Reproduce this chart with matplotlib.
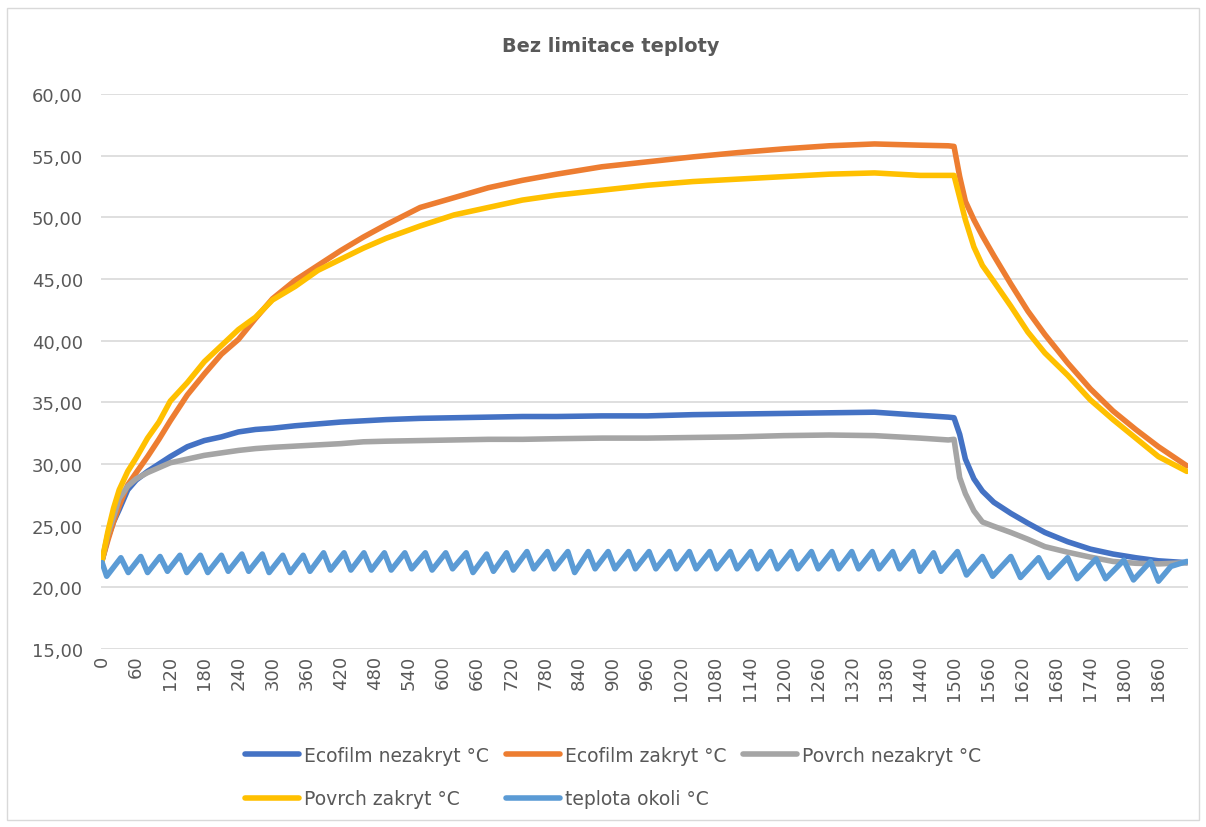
import matplotlib
matplotlib.use("Agg")
import matplotlib.pyplot as plt
from matplotlib.patches import Rectangle
from matplotlib.ticker import FuncFormatter, MultipleLocator

# time in seconds for the four main series
cas = [0, 10, 20, 30, 45, 60, 80, 100, 120, 150, 180, 210, 240, 270, 300,
       340, 380, 420, 460, 500, 560, 620, 680, 740, 800, 880, 960, 1040,
       1120, 1200, 1280, 1360, 1440, 1490, 1500, 1510, 1520, 1535, 1550,
       1570, 1600, 1630, 1660, 1700, 1740, 1780, 1820, 1860, 1910]

ecofilm_nezakryt = [22.2, 24.0, 25.3, 26.3, 27.9, 28.7, 29.4, 30.0, 30.6, 31.4,
                    31.9, 32.2, 32.6, 32.8, 32.9, 33.1, 33.25, 33.4, 33.5, 33.6,
                    33.7, 33.75, 33.8, 33.85, 33.85, 33.9, 33.9, 34.0, 34.05,
                    34.1, 34.15, 34.2, 33.95, 33.8, 33.75, 32.4, 30.4, 28.8,
                    27.8, 26.9, 26.0, 25.2, 24.45, 23.7, 23.1, 22.7, 22.4,
                    22.15, 22.0]

ecofilm_zakryt = [22.2, 23.8, 25.3, 26.6, 28.3, 29.3, 30.6, 32.0, 33.5, 35.6,
                  37.3, 38.9, 40.1, 41.8, 43.4, 44.9, 46.1, 47.3, 48.4, 49.4,
                  50.8, 51.6, 52.4, 53.0, 53.5, 54.1, 54.5, 54.9, 55.25, 55.55,
                  55.8, 55.95, 55.85, 55.8, 55.75, 53.3, 51.3, 49.8, 48.5, 46.9,
                  44.6, 42.4, 40.5, 38.2, 36.1, 34.3, 32.8, 31.4, 29.85]

povrch_nezakryt = [22.2, 24.3, 25.7, 27.2, 28.2, 28.8, 29.3, 29.7, 30.1, 30.4,
                   30.7, 30.9, 31.1, 31.25, 31.35, 31.45, 31.55, 31.65, 31.8,
                   31.85, 31.9, 31.95, 32.0, 32.0, 32.05, 32.1, 32.1, 32.15,
                   32.2, 32.3, 32.35, 32.3, 32.1, 31.95, 32.0, 28.9, 27.6, 26.2,
                   25.3, 24.95, 24.45, 23.9, 23.3, 22.85, 22.45, 22.1, 21.95,
                   21.9, 22.0]

povrch_zakryt = [22.2, 24.5, 26.4, 27.9, 29.4, 30.5, 32.1, 33.4, 35.1, 36.6,
                 38.3, 39.6, 40.9, 41.9, 43.3, 44.4, 45.7, 46.6, 47.5, 48.3,
                 49.3, 50.2, 50.8, 51.4, 51.8, 52.2, 52.6, 52.9, 53.1, 53.3,
                 53.5, 53.6, 53.4, 53.4, 53.4, 51.6, 49.8, 47.6, 46.1, 44.8,
                 42.8, 40.7, 39.0, 37.2, 35.2, 33.6, 32.1, 30.6, 29.4]

# ambient temperature: peaks and troughs of the sawtooth
cas_okoli = [0, 8, 33, 46, 68, 80, 102, 115, 137, 149, 173, 186, 210, 222,
             246, 258, 282, 294, 318, 331, 354, 366, 390, 402, 426, 438, 461,
             474, 497, 509, 533, 545, 569, 581, 605, 617, 641, 653, 677, 689,
             712, 724, 748, 760, 784, 796, 820, 832, 856, 868, 891, 903, 927,
             939, 963, 975, 999, 1011, 1034, 1046, 1070, 1082, 1106, 1118,
             1142, 1154, 1177, 1189, 1213, 1225, 1249, 1261, 1285, 1297, 1320,
             1332, 1356, 1368, 1392, 1404, 1428, 1440, 1464, 1477, 1506, 1522,
             1550, 1568, 1600, 1617, 1649, 1667, 1700, 1717, 1750, 1767, 1799,
             1816, 1846, 1860, 1882, 1910]
teplota_okoli = [22.0, 20.9, 22.4, 21.2, 22.5, 21.2, 22.5, 21.3, 22.6, 21.2,
                 22.6, 21.2, 22.6, 21.3, 22.7, 21.3, 22.7, 21.2, 22.6, 21.2,
                 22.6, 21.3, 22.8, 21.4, 22.8, 21.4, 22.8, 21.4, 22.8, 21.4,
                 22.8, 21.5, 22.8, 21.4, 22.8, 21.5, 22.8, 21.2, 22.7, 21.3,
                 22.8, 21.4, 22.9, 21.5, 22.9, 21.5, 22.9, 21.2, 22.9, 21.5,
                 22.9, 21.5, 22.9, 21.5, 22.9, 21.5, 22.9, 21.5, 22.9, 21.5,
                 22.9, 21.5, 22.9, 21.5, 22.9, 21.5, 22.9, 21.5, 22.9, 21.5,
                 22.9, 21.5, 22.9, 21.5, 22.9, 21.5, 22.9, 21.5, 22.9, 21.5,
                 22.9, 21.3, 22.8, 21.3, 22.9, 21.0, 22.5, 20.9, 22.5, 20.8,
                 22.4, 20.8, 22.4, 20.7, 22.3, 20.7, 22.2, 20.6, 22.1, 20.5,
                 21.7, 22.1]

serie = [
    ("Ecofilm nezakryt °C", cas, ecofilm_nezakryt, "#4472C4"),
    ("Ecofilm zakryt °C", cas, ecofilm_zakryt, "#ED7D31"),
    ("Povrch nezakryt °C", cas, povrch_nezakryt, "#A5A5A5"),
    ("Povrch zakryt °C", cas, povrch_zakryt, "#FFC000"),
    ("teplota okoli °C", cas_okoli, teplota_okoli, "#5B9BD5"),
]

text_color = "#595959"
plt.rcParams["font.family"] = ["DejaVu Sans"]

fig = plt.figure(figsize=(12.06, 8.28), dpi=100)
fig.patches.append(Rectangle((7 / 1206, 1 - 821 / 828), 1192 / 1206, 812 / 828,
                             transform=fig.transFigure, fill=False,
                             edgecolor="#D9D9D9", lw=1))
ax = fig.add_axes([101 / 1206, 1 - 650 / 828, 1087 / 1206, 555 / 828])

lines = []
for name, t, v, c in serie:
    ln, = ax.plot(t, v, color=c, lw=4.0, label=name, solid_joinstyle="round",
                  solid_capstyle="round")
    lines.append(ln)

ax.set_xlim(-2, 1912)
ax.set_ylim(15, 60)
ax.xaxis.set_major_locator(MultipleLocator(60))
ax.yaxis.set_major_locator(MultipleLocator(5))
ax.yaxis.set_major_formatter(FuncFormatter(lambda v, p: f"{v:.2f}".replace(".", ",")))
ax.grid(axis="y", color="#D9D9D9", lw=1.2)
ax.set_axisbelow(True)
for s in ax.spines.values():
    s.set_visible(False)
ax.tick_params(length=0, colors=text_color, labelsize=13)
ax.tick_params(axis="y", pad=13)
ax.tick_params(axis="x", pad=4)
for lab in ax.get_xticklabels():
    lab.set_rotation(90)

fig.text(611 / 1206, 1 - 47 / 828, "Bez limitace teploty", ha="center", va="center",
         fontsize=13.9, fontweight="bold", color=text_color)

# legend is filled column by column, so reorder to get Excel's row order
order = [0, 3, 1, 4, 2]
leg = fig.legend([lines[i] for i in order], [serie[i][0] for i in order],
                 loc="center", bbox_to_anchor=(613 / 1206, 1 - 778 / 828), ncol=3,
                 frameon=False, fontsize=13.5, handlelength=2.9, handletextpad=0.25,
                 columnspacing=0.9, labelspacing=1.3)
for txt in leg.get_texts():
    txt.set_color(text_color)

fig.savefig("out.png", dpi=100)
